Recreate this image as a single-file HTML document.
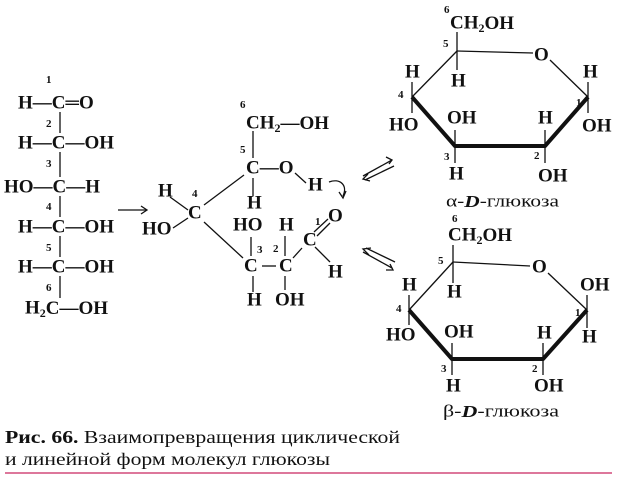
<!DOCTYPE html>
<html><head><meta charset="utf-8"><style>
html,body{margin:0;padding:0;background:#fff;}
svg{display:block}
text{font-family:"Liberation Serif",serif;fill:#111;}
.b{font-size:19px;font-weight:bold;}
.n{font-size:11px;font-weight:bold;}
.l{font-size:17px;}
.c{font-size:18px;}
</style></head><body>
<svg width="617" height="483" viewBox="0 0 617 483" xmlns="http://www.w3.org/2000/svg">
<g stroke="#111" stroke-width="1.3" fill="none">
<line x1="60" y1="112" x2="60" y2="133"/>
<line x1="60" y1="152" x2="60" y2="177"/>
<line x1="60" y1="196" x2="60" y2="217"/>
<line x1="60" y1="236" x2="60" y2="257"/>
<line x1="60" y1="276" x2="60" y2="298"/>
<line x1="118" y1="210" x2="146" y2="210"/>
<path d="M141 206 L147 210 L141 214"/>
<line x1="253" y1="131" x2="253" y2="158"/>
<line x1="253" y1="178" x2="253" y2="196"/>
<line x1="295" y1="173" x2="306" y2="183"/>
<line x1="244" y1="175" x2="204" y2="205"/>
<line x1="170" y1="197" x2="188" y2="210"/>
<line x1="173" y1="228" x2="188" y2="218"/>
<line x1="204" y1="222" x2="243" y2="258"/>
<line x1="251" y1="237" x2="251" y2="256"/>
<line x1="285" y1="236" x2="285" y2="256"/>
<line x1="262" y1="266" x2="276" y2="266"/>
<line x1="253" y1="276" x2="253" y2="292"/>
<line x1="285" y1="276" x2="285" y2="290"/>
<line x1="293" y1="258" x2="302" y2="248"/>
<line x1="314" y1="232" x2="328" y2="219"/>
<line x1="317" y1="236" x2="330" y2="223"/>
<line x1="315" y1="247" x2="330" y2="262"/>
<path d="M329 182 C340 178 348 185 343 196"/>
<path d="M339 192 L343 198 L346 191"/>
<line x1="363" y1="176" x2="392" y2="160"/>
<path d="M386 157 L392 160 L389 164"/>
<line x1="394" y1="166" x2="365" y2="180"/>
<path d="M368 174 L363 179 L370 181"/>
<line x1="363" y1="252" x2="392" y2="268"/>
<path d="M386 270 L393 270 L390 264"/>
<line x1="395" y1="262" x2="366" y2="248"/>
<path d="M369 255 L363 249 L371 248"/>
<line x1="457" y1="51" x2="533" y2="53"/>
<line x1="550" y1="60" x2="588" y2="97"/>
<line x1="457" y1="51" x2="412" y2="97"/>
<line x1="457" y1="32" x2="457" y2="70"/>
<line x1="412" y1="82" x2="412" y2="113"/>
<line x1="455" y1="130" x2="455" y2="163"/>
<line x1="545" y1="130" x2="545" y2="163"/>
<line x1="588" y1="82" x2="588" y2="113"/>
<polyline points="412,97 455,146 545,146 588,97" stroke-width="4" stroke-linejoin="round"/>
<line x1="453" y1="262" x2="530" y2="266"/>
<line x1="548" y1="273" x2="587" y2="310"/>
<line x1="453" y1="262" x2="409" y2="310"/>
<line x1="453" y1="245" x2="453" y2="283"/>
<line x1="409" y1="295" x2="409" y2="325"/>
<line x1="452" y1="343" x2="452" y2="375"/>
<line x1="543" y1="343" x2="543" y2="375"/>
<line x1="587" y1="295" x2="587" y2="328"/>
<polyline points="409,310 452,359 543,359 587,310" stroke-width="4" stroke-linejoin="round"/>
</g>
<line x1="5" y1="473" x2="612" y2="473" stroke="#d24a7a" stroke-width="1.6"/>
<g dominant-baseline="central">
<text class="n" x="46" y="80">1</text>
<text class="b" x="18" y="103">H—C═O</text>
<text class="n" x="46" y="124">2</text>
<text class="b" x="18" y="143">H—C—OH</text>
<text class="n" x="46" y="164">3</text>
<text class="b" x="4" y="187">HO—C—H</text>
<text class="n" x="46" y="207">4</text>
<text class="b" x="18" y="227">H—C—OH</text>
<text class="n" x="46" y="248">5</text>
<text class="b" x="18" y="267">H—C—OH</text>
<text class="n" x="46" y="288">6</text>
<text class="b" x="25" y="308">H<tspan font-size="12" dy="5">2</tspan><tspan dy="-5">C—OH</tspan></text>
<text class="n" x="240" y="105">6</text>
<text class="b" x="246" y="123">CH<tspan font-size="12" dy="5">2</tspan><tspan dy="-5">—OH</tspan></text>
<text class="n" x="240" y="150">5</text>
<text class="b" x="246" y="168">C—O</text>
<text class="b" x="308" y="185">H</text>
<text class="b" x="247" y="203">H</text>
<text class="b" x="158" y="191">H</text>
<text class="n" x="192" y="194">4</text>
<text class="b" x="188" y="213">C</text>
<text class="b" x="142" y="229">HO</text>
<text class="b" x="233" y="225">HO</text>
<text class="b" x="279" y="225">H</text>
<text class="n" x="257" y="250">3</text>
<text class="n" x="273" y="249">2</text>
<text class="b" x="244" y="266">C</text>
<text class="b" x="279" y="266">C</text>
<text class="n" x="315" y="222">1</text>
<text class="b" x="303" y="240">C</text>
<text class="b" x="328" y="216">O</text>
<text class="b" x="328" y="272">H</text>
<text class="b" x="247" y="300">H</text>
<text class="b" x="275" y="300">OH</text>
<text class="n" x="444" y="10">6</text>
<text class="b" x="450" y="23">CH<tspan font-size="12" dy="5">2</tspan><tspan dy="-5">OH</tspan></text>
<text class="n" x="443" y="44">5</text>
<text class="b" x="534" y="55">O</text>
<text class="b" x="405" y="72">H</text>
<text class="b" x="451" y="81">H</text>
<text class="n" x="398" y="95">4</text>
<text class="b" x="389" y="125">HO</text>
<text class="b" x="447" y="118">OH</text>
<text class="n" x="444" y="157">3</text>
<text class="b" x="449" y="174">H</text>
<text class="b" x="538" y="118">H</text>
<text class="n" x="534" y="156">2</text>
<text class="b" x="538" y="176">OH</text>
<text class="b" x="583" y="72">H</text>
<text class="n" x="576" y="103">1</text>
<text class="b" x="582" y="126">OH</text>
<text class="l" x="446" y="201" textLength="113" lengthAdjust="spacingAndGlyphs">α-<tspan font-style="italic" font-weight="bold">D</tspan>-глюкоза</text>
<text class="n" x="452" y="219">6</text>
<text class="b" x="448" y="235">CH<tspan font-size="12" dy="5">2</tspan><tspan dy="-5">OH</tspan></text>
<text class="n" x="438" y="261">5</text>
<text class="b" x="532" y="267">O</text>
<text class="b" x="402" y="285">H</text>
<text class="b" x="447" y="292">H</text>
<text class="n" x="396" y="309">4</text>
<text class="b" x="386" y="335">HO</text>
<text class="b" x="444" y="332">OH</text>
<text class="n" x="441" y="369">3</text>
<text class="b" x="446" y="386">H</text>
<text class="b" x="537" y="333">H</text>
<text class="n" x="532" y="369">2</text>
<text class="b" x="534" y="386">OH</text>
<text class="b" x="580" y="285">OH</text>
<text class="n" x="575" y="313">1</text>
<text class="b" x="582" y="337">H</text>
<text class="l" x="443" y="411" textLength="116" lengthAdjust="spacingAndGlyphs">β-<tspan font-style="italic" font-weight="bold">D</tspan>-глюкоза</text>
<text class="c" x="5" y="437" textLength="395" lengthAdjust="spacingAndGlyphs"><tspan font-weight="bold">Рис. 66.</tspan> Взаимопревращения циклической</text>
<text class="c" x="5" y="459" textLength="325" lengthAdjust="spacingAndGlyphs">и линейной форм молекул глюкозы</text>
</g>
</svg>
</body></html>
